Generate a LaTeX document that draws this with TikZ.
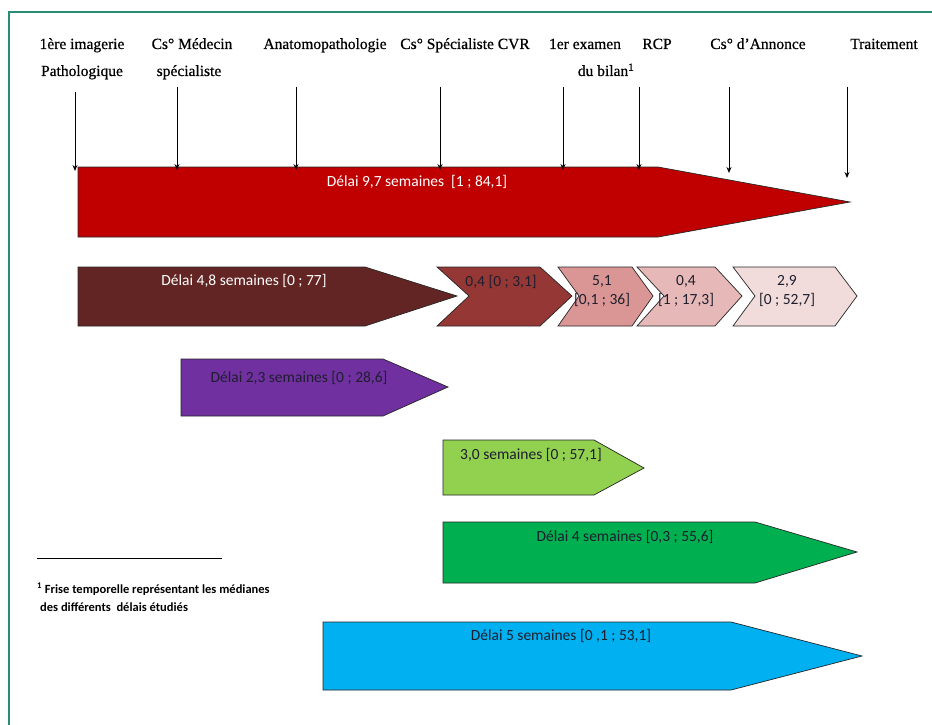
\documentclass[tikz,border=0pt]{standalone}
\usepackage{fontspec}
\setmainfont{Liberation Serif}
\newfontfamily\carl{Carlito}
\newfontfamily\toplab{Liberation Serif}[FakeBold=0.6,Ligatures=TeX]
\usetikzlibrary{arrows.meta}
\definecolor{frameteal}{HTML}{2A8C74}
\definecolor{cRed}{HTML}{C00000}
\definecolor{cBrown}{HTML}{632523}
\definecolor{cCh1}{HTML}{953735}
\definecolor{cCh2}{HTML}{D99694}
\definecolor{cCh3}{HTML}{E6B9B8}
\definecolor{cCh4}{HTML}{F2DCDB}
\definecolor{cPurple}{HTML}{7030A0}
\definecolor{cLgreen}{HTML}{92D050}
\definecolor{cGreen}{HTML}{00B050}
\definecolor{cBlue}{HTML}{00B0F0}
\definecolor{darktxt}{HTML}{1E1E2E}
\tikzset{
  shapebox/.style={draw=black!85, line width=0.7pt, line join=miter},
  toplabel/.style={font=\toplab\fontsize{15.5}{18}\selectfont, anchor=base, inner sep=0pt},
  tick/.style={draw=black, line width=0.9pt, -{Stealth[length=6pt,width=5pt]}},
  boxtext/.style={font=\carl\fontsize{15.5}{18}\selectfont, inner sep=0pt, text=darktxt},
  whitetext/.style={boxtext, text=white},
  chevtext/.style={boxtext, align=center, font=\carl\fontsize{15.5}{19}\selectfont},
  foot/.style={font=\carl\bfseries\fontsize{12.5}{14}\selectfont, anchor=base west, inner sep=0pt}
}
\begin{document}
\begin{tikzpicture}[x=1pt,y=-1pt]
\useasboundingbox (0,0) rectangle (932,725);
\fill[white] (0,0) rectangle (932,725);
% frame
\draw[frameteal, line width=2pt] (9,725) -- (9,12) -- (932,12);

% top labels
\node[toplabel] (l1a) at (82,49) {1ère imagerie};
\node[toplabel] (l1b) at (82,76) {Pathologique};
\node[toplabel] (l2a) at (192,49) {Cs° Médecin};
\node[toplabel] (l2b) at (189,76) {spécialiste};
\node[toplabel] (l3a) at (325,49) {Anatomopathologie};
\node[toplabel] (l4a) at (465,49) {Cs° Spécialiste CVR};
\node[toplabel] (l5a) at (585,49) {1er examen};
\node[toplabel] (l5b) at (606,76) {du bilan\textsuperscript{1}};
\node[toplabel] (l6a) at (657,49) {RCP};
\node[toplabel] (l7a) at (758,49) {Cs° d’Annonce};
\node[toplabel] (l8a) at (884,49) {Traitement};

% arrow start/end coordinates
\coordinate (s1) at (75,92);  \coordinate (e1) at (75,171);
\coordinate (s2) at (177,87); \coordinate (e2) at (177,170);
\coordinate (s3) at (296,87); \coordinate (e3) at (296,170);
\coordinate (s4) at (440,87); \coordinate (e4) at (440,170);
\coordinate (s5) at (563,87); \coordinate (e5) at (563,170);
\coordinate (s6) at (639,87); \coordinate (e6) at (639,170);
\coordinate (s7) at (729,87); \coordinate (e7) at (729,173);
\coordinate (s8) at (847,87); \coordinate (e8) at (847,178);

% big red arrow
\filldraw[shapebox, fill=cRed] (78,167) -- (658,167) -- (850,202) -- (658,237) -- (78,237) -- cycle;
\node[whitetext] (tRed) at (417,182) {Délai 9,7 semaines\ \ [1 ; 84,1]};

\foreach \i in {1,...,8} { \draw[tick] (s\i) -- (e\i); }

% brown arrow
\filldraw[shapebox, fill=cBrown] (78,267) -- (365,267) -- (457,296) -- (365,326) -- (78,326) -- cycle;
\node[whitetext] (tBrown) at (244,281) {Délai 4,8 semaines [0 ; 77]};

% chevrons
\filldraw[shapebox, fill=cCh1] (437,267) -- (540,267) -- (572,296) -- (540,326) -- (437,326) -- (469,296) -- cycle;
\node[boxtext] (tCh1) at (501,282) {0,4 [0 ; 3,1]};
\filldraw[shapebox, fill=cCh2] (558,267) -- (632,267) -- (653,296) -- (632,326) -- (558,326) -- (579,296) -- cycle;
\node[chevtext] (tCh2) at (602,291) {5,1\\{}[0,1 ; 36]};
\filldraw[shapebox, fill=cCh3] (637,267) -- (715,267) -- (742,296) -- (715,326) -- (637,326) -- (664,296) -- cycle;
\node[chevtext] (tCh3) at (686,291) {0,4\\{}[1 ; 17,3]};
\filldraw[shapebox, fill=cCh4] (733,267) -- (835,267) -- (857,296) -- (835,326) -- (733,326) -- (755,296) -- cycle;
\node[chevtext] (tCh4) at (787,291) {2,9\\{}[0 ; 52,7]};

% purple
\filldraw[shapebox, fill=cPurple] (181,359) -- (383,359) -- (448,387) -- (383,416) -- (181,416) -- cycle;
\node[boxtext] (tPurple) at (299,378) {Délai 2,3 semaines [0 ; 28,6]};

% light green
\filldraw[shapebox, fill=cLgreen] (443,440) -- (594,440) -- (644,468) -- (594,495) -- (443,495) -- cycle;
\node[boxtext] (tLgreen) at (531,455) {3,0 semaines [0 ; 57,1]};

% green
\filldraw[shapebox, fill=cGreen] (443,522) -- (755,522) -- (857,552) -- (755,583) -- (443,583) -- cycle;
\node[boxtext] (tGreen) at (625,537) {Délai 4 semaines [0,3 ; 55,6]};

% blue
\filldraw[shapebox, fill=cBlue] (323,622) -- (731,622) -- (862,656) -- (731,690) -- (323,690) -- cycle;
\node[boxtext] (tBlue) at (561,636) {Délai 5 semaines [0 ,1 ; 53,1]};

% footnote
\coordinate (fa) at (37,558); \coordinate (fb) at (222,558);
\draw[black, line width=1pt] (fa) -- (fb);
\node[foot] (f1) at (37,593) {\textsuperscript{1} Frise temporelle représentant les médianes};
\node[foot] (f2) at (40,611) {des différents\ \ délais étudiés};
\end{tikzpicture}
\end{document}
